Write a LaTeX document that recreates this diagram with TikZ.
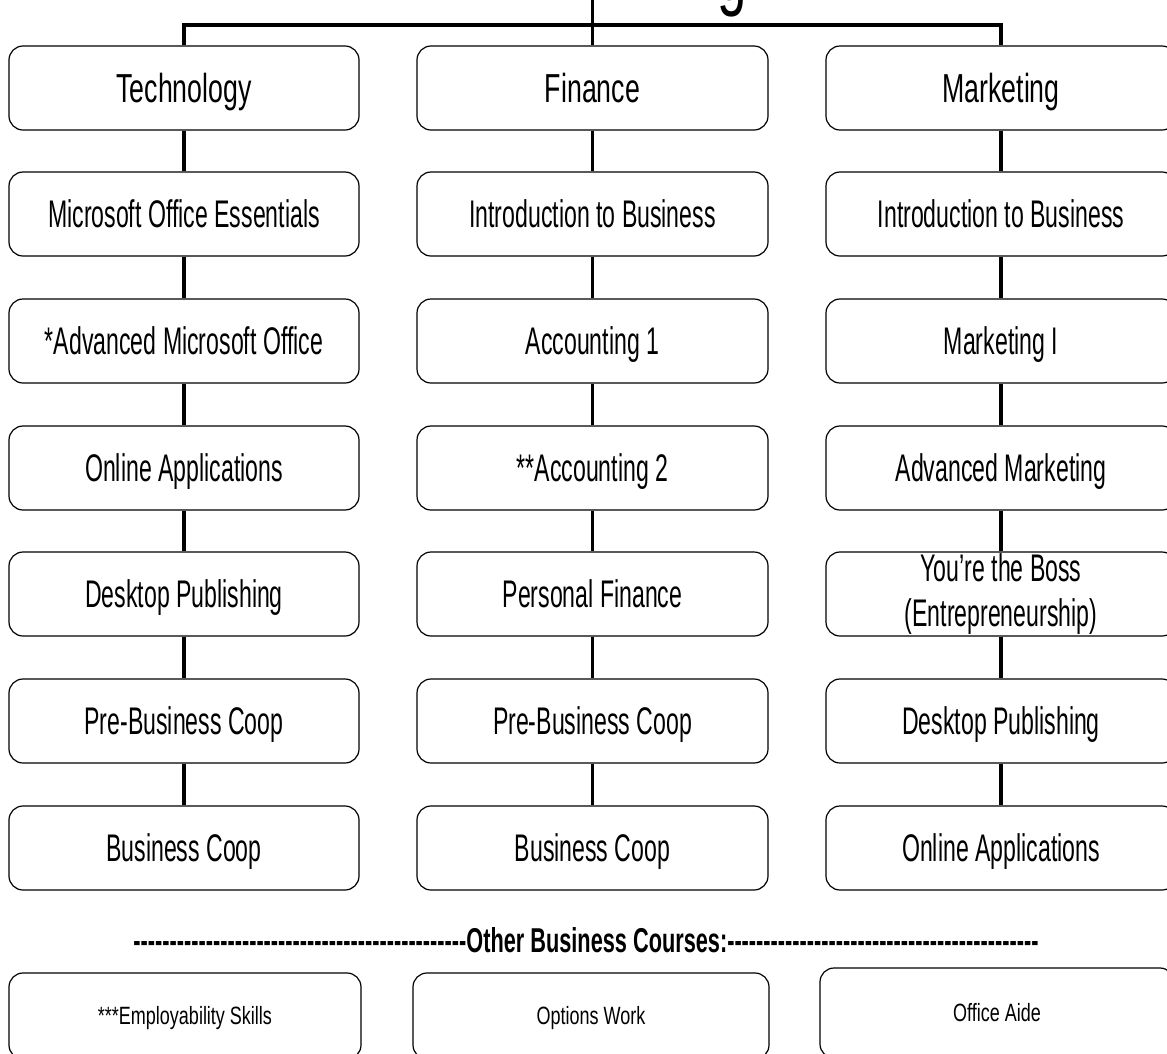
\documentclass[tikz,border=0pt]{standalone}
\usepackage{fontspec}
\newfontfamily\hdfont[FakeStretch=0.66]{Liberation Sans}
\newfontfamily\bdfont[FakeStretch=0.60]{Liberation Sans}
\newfontfamily\smfont[FakeStretch=0.72]{Liberation Sans}
\newfontfamily\otfont[FakeStretch=0.63]{Liberation Sans Bold}
\newfontfamily\ttlfont[FakeStretch=0.66]{Liberation Sans}
\newcommand\dashrun[1]{\foreach \k in {1,...,#1}{\hbox{-}}}
\begin{document}
\begin{tikzpicture}[x=1pt,y=-1pt,
  boxbase/.style={draw=black, line width=1.2pt, rounded corners=14pt, inner sep=0pt, align=center},
  box/.style={boxbase, minimum width=350pt, minimum height=84pt},
  hd/.style={box, font=\hdfont\fontsize{40.5}{46}\selectfont, text height=29pt, text depth=0pt},
  bd/.style={box, font=\bdfont\fontsize{38.5}{45}\selectfont, text height=27.6pt, text depth=0pt},
  bdtwo/.style={box, font=\bdfont\fontsize{38.5}{45}\selectfont},
  sm/.style={boxbase, font=\smfont\fontsize{25}{30}\selectfont, text height=17.9pt, text depth=0pt},
  conn/.style={line width=3.3pt}]
\useasboundingbox (0,0) rectangle (1167,1053);
\clip (0,0) rectangle (1167,1053);
% title fragment
\node[font=\ttlfont\fontsize{80}{90}\selectfont, anchor=base, inner sep=0pt] (ttl) at (732,0) {g};
% Technology column
\node[hd] (t1) at (184,88) {Technology};
\node[bd] (t2) at (184,214) {Microsoft Office Essentials};
\node[bd] (t3) at (184,341) {*Advanced Microsoft Office};
\node[bd] (t4) at (184,468) {Online Applications};
\node[bd] (t5) at (184,594) {Desktop Publishing};
\node[bd] (t6) at (184,721) {Pre-Business Coop};
\node[bd] (t7) at (184,848) {Business Coop};
% Finance column
\node[hd, minimum width=351pt] (f1) at (592.5,88) {Finance};
\node[bd, minimum width=351pt] (f2) at (592.5,214) {Introduction to Business};
\node[bd, minimum width=351pt] (f3) at (592.5,341) {Accounting 1};
\node[bd, minimum width=351pt] (f4) at (592.5,468) {**Accounting 2};
\node[bd, minimum width=351pt] (f5) at (592.5,594) {Personal Finance};
\node[bd, minimum width=351pt] (f6) at (592.5,721) {Pre-Business Coop};
\node[bd, minimum width=351pt] (f7) at (592.5,848) {Business Coop};
% Marketing column
\node[hd] (m1) at (1001,88) {Marketing};
\node[bd] (m2) at (1001,214) {Introduction to Business};
\node[bd] (m3) at (1001,341) {Marketing I};
\node[bd] (m4) at (1001,468) {Advanced Marketing};
\node[bdtwo] (m5) at (1001,594) {You’re the Boss\\(Entrepreneurship)};
\node[bd] (m6) at (1001,721) {Desktop Publishing};
\node[bd] (m7) at (1001,848) {Online Applications};
% top bus
\coordinate (bus) at (592.5,25);
\coordinate (top) at (592.5,0);
\draw[conn] (t1.north) |- (bus) -| (m1.north);
\draw[conn] (top) -- (f1.north);
% column connectors
\foreach \c in {t,f,m}{
  \foreach \i/\j in {1/2,2/3,3/4,4/5,5/6,6/7}{
    \draw[conn] (\c\i.south) -- (\c\j.north);
  }
}
% other courses
\node[font=\otfont\fontsize{34.5}{40}\selectfont, text height=24.7pt, text depth=0pt, inner sep=0pt] (oth) at (586,940) {\dashrun{46}Other Business Courses:\dashrun{43}};
\node[sm, minimum width=352pt, minimum height=86pt] (e1) at (185,1016) {***Employability Skills};
\node[sm, minimum width=356pt, minimum height=86pt] (e2) at (591,1016) {Options Work};
\node[sm, minimum width=354pt, minimum height=90pt] (e3) at (997,1013) {Office Aide};
\end{tikzpicture}
\end{document}
